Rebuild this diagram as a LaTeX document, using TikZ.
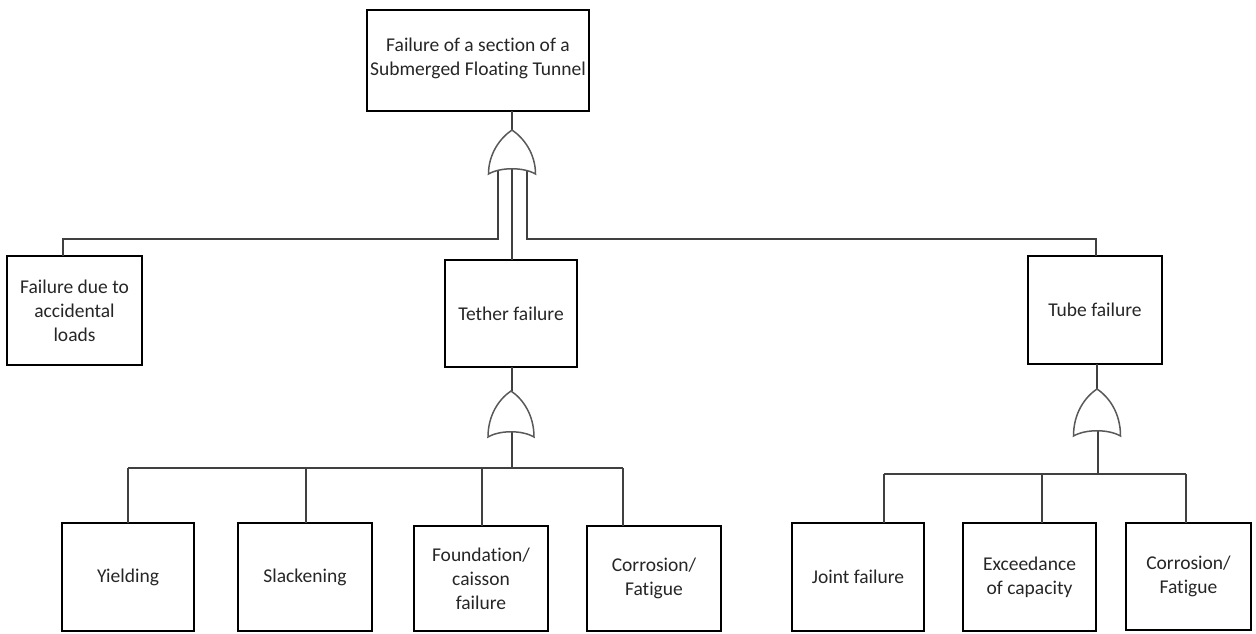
\documentclass[tikz,border=0pt]{standalone}
\usepackage{fontspec}
\setmainfont[Ligatures=NoCommon]{Carlito}
\newcommand\draworgate[4]{% cx, ytop, half width, ybot
  \draw[gate] (#1-#3,#4) .. controls (#1-#3,#2+24) and (#1-12,#2+8) .. (#1,#2)
    .. controls (#1+12,#2+8) and (#1+#3,#2+24) .. (#1+#3,#4)
    .. controls (#1+#3-12,#4-7) and (#1-#3+12,#4-7) .. cycle;}
\begin{document}
\begin{tikzpicture}[x=1pt,y=-1pt,
  box/.style={draw=black,line width=2.2pt,align=center,inner sep=0pt,outer sep=0pt,
    text=black!85,font=\fontsize{19.5}{24}\selectfont},
  conn/.style={draw=black!75,line width=1.3pt},
  gate/.style={draw=black!65,line width=1.5pt,fill=white}]
\useasboundingbox (0,0) rectangle (1256,633);

% boxes
\node[box,minimum width=222pt,minimum height=101pt] (top) at (478,60.5) {Failure of a section of a\\Submerged Floating Tunnel\\[-16pt]};
\node[box,minimum width=135pt,minimum height=109pt] (acc) at (74.5,310.5) {Failure due to\\accidental\\loads};
\node[box,minimum width=132pt,minimum height=107pt] (tether) at (511,313.5) {Tether failure};
\node[box,minimum width=134pt,minimum height=108pt] (tube) at (1095,310) {Tube failure};
\node[box,minimum width=132pt,minimum height=108pt] (yield) at (128,577) {Yielding};
\node[box,minimum width=134pt,minimum height=108pt] (slack) at (305,577) {Slackening};
\node[box,minimum width=134pt,minimum height=105pt] (found) at (481,578.5) {Foundation/\\caisson\\failure};
\node[box,minimum width=134pt,minimum height=105pt] (corrA) at (654,578.5) {Corrosion/\\Fatigue};
\node[box,minimum width=132pt,minimum height=108pt] (joint) at (858,577) {Joint failure};
\node[box,minimum width=133pt,minimum height=108pt] (exceed) at (1029.5,577) {Exceedance\\of capacity};
\node[box,minimum width=125pt,minimum height=107pt] (corrB) at (1188.5,576.5) {Corrosion/\\Fatigue};

% gate reference points
\coordinate (g1in) at (512,130);
\coordinate (g1l) at (498,170);
\coordinate (g1c) at (512,168);
\coordinate (g1r) at (527,170);
\coordinate (accdrop) at (63,239);
\coordinate (tubedrop) at (1096,239);

\coordinate (g2in) at (512,391);
\coordinate (g2out) at (512,430);
\coordinate (b2a) at (128,468);
\coordinate (b2b) at (306,468);
\coordinate (b2c) at (482,468);
\coordinate (b2d) at (623,468);

\coordinate (g3in) at (1097,389);
\coordinate (g3out) at (1098,429);
\coordinate (b3a) at (884,474);
\coordinate (b3b) at (1042,474);
\coordinate (b3c) at (1186,474);

% connectors (drawn below gates)
\draw[conn] (g1in |- top.south) -- (g1in);
\draw[conn] (g1l) |- (accdrop) -- (accdrop |- acc.north);
\draw[conn] (g1r) |- (tubedrop) -- (tubedrop |- tube.north);
\draw[conn] (g1c) -- (g1c |- tether.north);

\draw[conn] (g2in |- tether.south) -- (g2in);
\draw[conn] (g2out) -- (g2out |- b2a);
\draw[conn] (b2a) -- (b2d);
\draw[conn] (b2a) -- (b2a |- yield.north);
\draw[conn] (b2b) -- (b2b |- slack.north);
\draw[conn] (b2c) -- (b2c |- found.north);
\draw[conn] (b2d) -- (b2d |- corrA.north);

\draw[conn] (g3in |- tube.south) -- (g3in);
\draw[conn] (g3out) -- (g3out |- b3a);
\draw[conn] (b3a) -- (b3c);
\draw[conn] (b3a) -- (b3a |- joint.north);
\draw[conn] (b3b) -- (b3b |- exceed.north);
\draw[conn] (b3c) -- (b3c |- corrB.north);

% OR gates
\draworgate{512}{130}{23.5}{174}
\draworgate{511}{391}{23}{437}
\draworgate{1097}{389}{23.5}{436}
\end{tikzpicture}
\end{document}
